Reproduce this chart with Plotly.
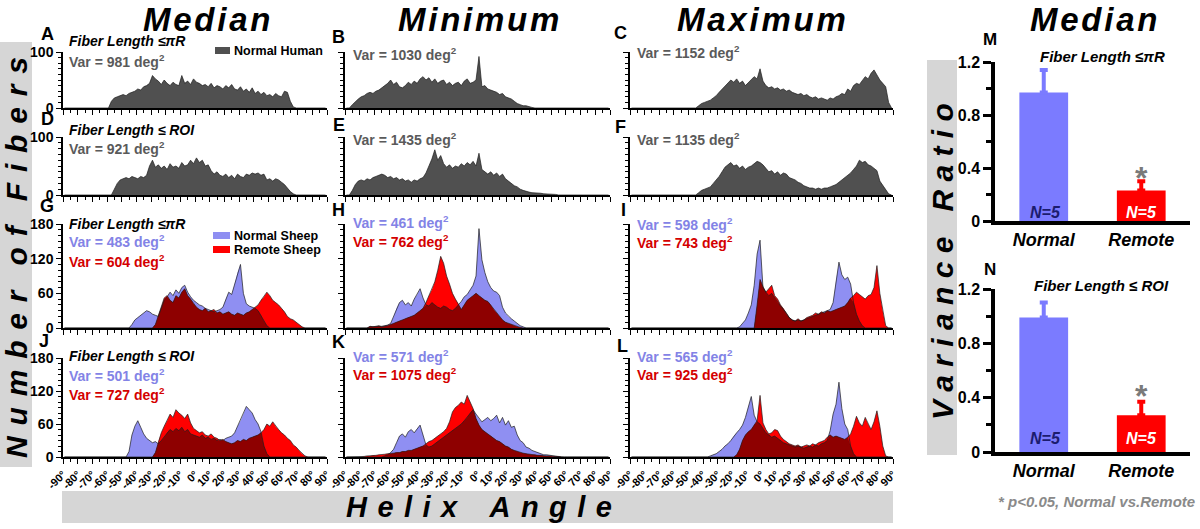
import plotly.graph_objects as go

W, H = 1200, 529
FONT = "Liberation Sans, Arial, sans-serif"

# ---------------- data ----------------
ANGLES = [-89, -87, -85, -83, -81, -79, -77, -75, -73, -71, -69, -67, -65, -63, -61,
          -59, -57, -55, -53, -51, -49, -47, -45, -43, -41, -39, -37, -35, -33, -31,
          -29, -27, -25, -23, -21, -19, -17, -15, -13, -11, -9, -7, -5, -3, -1,
          1, 3, 5, 7, 9, 11, 13, 15, 17, 19, 21, 23, 25, 27, 29,
          31, 33, 35, 37, 39, 41, 43, 45, 47, 49, 51, 53, 55, 57, 59,
          61, 63, 65, 67, 69, 71, 73, 75, 77, 79, 81, 83, 85, 87, 89]

XTICK_VALS = [-90, -80, -70, -60, -50, -40, -30, -20, -10, 0, 10, 20, 30, 40, 50, 60, 70, 80, 90]
XTICK_TEXT = ["-90°", "-80°", "-70°", "-60°", "-50°", "-40°", "-30°", "-20°", "-10°", "0°",
              "10°", "20°", "30°", "40°", "50°", "60°", "70°", "80°", "90°"]

# Normal human (counts per 2° bin, first non-empty bin centre given)
A_FROM, A_COUNTS = -57, [12, 18, 20, 22, 24, 22, 26, 28, 30, 34, 32, 38, 40, 44, 58, 52, 48, 42, 50, 44,
                         40, 46, 42, 40, 58, 44, 48, 42, 52, 46, 44, 40, 42, 38, 44, 36, 40, 38, 34, 40,
                         36, 42, 34, 32, 38, 30, 34, 28, 36, 26, 30, 24, 28, 22, 24, 20, 26, 22, 20, 30,
                         28, 12, 2]
D_FROM, D_COUNTS = -55, [10, 20, 26, 28, 30, 28, 32, 30, 28, 32, 30, 34, 50, 60, 48, 52, 46, 50, 44, 54,
                         48, 50, 46, 56, 50, 52, 60, 54, 64, 56, 60, 50, 52, 42, 36, 40, 34, 32, 36, 30,
                         34, 28, 36, 32, 30, 36, 34, 38, 36, 38, 34, 36, 26, 28, 24, 28, 26, 22, 18, 12,
                         6, 2]
B_FROM, B_COUNTS = -85, [6, 12, 16, 20, 22, 26, 28, 26, 30, 32, 36, 40, 44, 50, 42, 46, 38, 36, 40, 46,
                         42, 48, 44, 52, 56, 50, 54, 46, 52, 44, 48, 50, 42, 46, 40, 44, 46, 40, 48, 52,
                         44, 46, 50, 92, 38, 40, 34, 32, 30, 28, 24, 26, 20, 18, 16, 12, 8, 6, 4, 4,
                         2, 1]
E_FROM, E_COUNTS = -85, [8, 18, 24, 26, 24, 28, 26, 30, 32, 34, 36, 34, 30, 32, 28, 30, 26, 28, 24, 26,
                         22, 26, 24, 28, 30, 38, 50, 62, 78, 60, 68, 54, 48, 52, 46, 50, 48, 54, 50, 56,
                         52, 58, 50, 72, 44, 40, 36, 40, 34, 38, 32, 36, 28, 24, 20, 16, 14, 10, 8, 6,
                         5, 4, 4, 3, 3, 2, 2, 2, 2, 1]
C_FROM, C_COUNTS = -43, [4, 8, 10, 12, 14, 18, 22, 28, 34, 40, 44, 50, 46, 52, 44, 48, 40, 46, 50, 56,
                         52, 70, 48, 40, 36, 38, 34, 36, 32, 34, 30, 32, 28, 26, 24, 26, 22, 24, 20, 18,
                         20, 16, 18, 16, 14, 18, 16, 20, 22, 26, 24, 34, 30, 40, 44, 42, 50, 56, 52, 62,
                         68, 58, 50, 44, 38, 10]
F_FROM, F_COUNTS = -43, [4, 8, 10, 12, 14, 20, 26, 32, 40, 48, 52, 56, 50, 52, 46, 50, 44, 48, 50, 54,
                         58, 56, 52, 46, 40, 42, 36, 40, 34, 38, 36, 30, 28, 26, 22, 20, 16, 14, 12, 12,
                         10, 12, 10, 12, 12, 14, 16, 18, 22, 26, 30, 34, 38, 44, 50, 60, 56, 58, 52, 50,
                         46, 42, 24, 16, 10, 2]

# Sheep: normal (blue) and remote (red)
G_BLUE_FROM, G_BLUE = -43, [6, 14, 18, 22, 26, 30, 28, 24, 22, 20, 34, 48, 54, 62, 56, 66, 60, 70, 74, 62,
                            54, 48, 44, 40, 38, 34, 32, 30, 28, 30, 32, 36, 50, 62, 58, 76, 96, 110, 60, 42,
                            38, 36, 34, 30, 22, 12, 4]
G_RED_FROM, G_RED = -27, [6, 22, 36, 52, 56, 48, 44, 56, 52, 62, 68, 56, 50, 42, 36, 32, 30, 34, 28, 30,
                          32, 26, 28, 24, 26, 28, 24, 22, 26, 24, 22, 26, 28, 32, 36, 40, 48, 54, 62, 56,
                          48, 44, 40, 34, 28, 20, 16, 14, 10, 6, 2]
J_BLUE_FROM, J_BLUE = -45, [10, 40, 56, 66, 54, 42, 34, 30, 26, 28, 24, 30, 36, 44, 50, 46, 52, 48, 54, 46,
                            50, 42, 40, 38, 36, 40, 34, 36, 32, 34, 30, 32, 30, 34, 36, 38, 44, 56, 66, 78,
                            92, 86, 80, 68, 60, 46, 20, 6]
J_RED_FROM, J_RED = -27, [8, 28, 44, 56, 66, 78, 72, 86, 80, 76, 70, 78, 62, 52, 48, 44, 46, 40, 38, 42,
                          36, 34, 30, 32, 28, 26, 24, 26, 30, 28, 32, 30, 34, 36, 38, 40, 44, 50, 60, 56,
                          64, 56, 50, 44, 40, 34, 30, 22, 18, 12, 6, 2]
H_BLUE_FROM, H_BLUE = -73, [2, 2, 2, 3, 3, 4, 5, 8, 20, 34, 44, 48, 40, 44, 38, 50, 58, 68, 52, 40,
                            38, 44, 40, 36, 34, 38, 36, 32, 30, 34, 40, 46, 54, 58, 66, 74, 90, 172, 118, 96,
                            80, 70, 64, 62, 56, 36, 26, 20, 16, 12, 8, 4, 2]
H_RED_FROM, H_RED = -73, [3, 2, 3, 4, 2, 3, 4, 6, 8, 10, 12, 14, 16, 18, 20, 22, 26, 30, 34, 44,
                          56, 66, 80, 100, 124, 112, 90, 76, 60, 50, 42, 32, 40, 48, 52, 56, 60, 56, 52, 48,
                          46, 40, 32, 26, 20, 14, 10, 8, 6, 4, 2, 1]
K_BLUE_FROM, K_BLUE = -63, [2, 4, 8, 14, 26, 38, 42, 36, 46, 50, 44, 52, 58, 40, 22, 18, 20, 24, 28, 32,
                            36, 40, 44, 48, 52, 56, 60, 66, 72, 80, 86, 78, 70, 64, 68, 72, 66, 70, 76, 62,
                            72, 58, 66, 54, 56, 40, 30, 26, 18, 16, 12, 10, 8, 6, 4, 4, 3, 2, 2, 1]
K_RED_FROM, K_RED = -77, [1, 2, 2, 3, 3, 4, 4, 5, 6, 6, 7, 8, 8, 10, 10, 12, 12, 14, 16, 18,
                          20, 24, 28, 30, 34, 38, 42, 46, 52, 64, 82, 90, 94, 100, 96, 112, 100, 88, 70, 58,
                          50, 46, 42, 38, 34, 30, 28, 24, 20, 18, 14, 12, 10, 8, 7, 6, 5, 4, 4, 3,
                          3, 2, 2, 2, 1, 1, 1]
I_BLUE_FROM, I_BLUE = -15, [2, 8, 14, 26, 40, 74, 128, 152, 70, 62, 56, 60, 52, 44, 38, 32, 24, 18, 14, 12,
                            14, 12, 14, 16, 18, 20, 22, 24, 26, 28, 30, 32, 44, 82, 114, 92, 84, 88, 76, 44,
                            24, 12, 4]
I_RED_FROM, I_RED = -3, [40, 84, 72, 62, 68, 74, 56, 50, 40, 34, 26, 18, 14, 12, 16, 12, 14, 18, 20, 22,
                         26, 24, 28, 26, 30, 28, 30, 32, 34, 36, 38, 44, 52, 56, 62, 58, 54, 50, 56, 58,
                         70, 108, 60, 30, 4]
L_BLUE_FROM, L_BLUE = -35, [2, 4, 6, 10, 14, 20, 24, 30, 38, 44, 50, 58, 72, 92, 110, 76, 64, 60, 52, 44,
                            40, 36, 38, 34, 30, 26, 24, 22, 20, 18, 20, 18, 16, 18, 20, 18, 22, 20, 24, 26,
                            30, 48, 78, 96, 136, 88, 60, 50, 20, 6]
L_RED_FROM, L_RED = -17, [4, 14, 30, 40, 46, 50, 58, 66, 112, 62, 50, 42, 44, 50, 48, 38, 32, 28, 24, 22,
                          20, 22, 18, 20, 22, 20, 24, 22, 26, 28, 30, 36, 40, 36, 38, 36, 34, 32, 36, 42,
                          56, 74, 62, 56, 72, 60, 50, 64, 84, 56, 20, 2]

# Variance ratio bars (mean, upper SEM)
BAR_GROUPS = ["Normal", "Remote"]
M_MEAN = [0.97, 0.23]
M_ERR = [0.17, 0.07]
N_MEAN = [0.99, 0.27]
N_ERR = [0.11, 0.10]

# ---------------- styling ----------------
GRAY_FILL = "#505050"
BLUE_FILL = "#8f8ff2"
RED_FILL = "#ff0000"
DARK_FILL = "#8e0000"
OUTLINE = "#1c1c1c"
TXT_GRAY = "#5a5a5a"
TXT_BLUE = "#8383e6"
TXT_RED = "#d40000"
BAR_BLUE = "#7b7bff"
BAR_RED = "#ff0000"

COLS = [(63, 327), (345, 610), (630, 893)]
ROWS = [(52, 108), (137, 195), (224, 328), (358, 457)]


def px_x(px):
    return px / W


def px_y(py):
    return 1 - py / H


def full(start, counts):
    out = [0] * len(ANGLES)
    i0 = ANGLES.index(start)
    for k, v in enumerate(counts):
        if i0 + k < len(out):
            out[i0 + k] = v
    return out


def axn(prefix, i):
    return prefix if i == 1 else f"{prefix}{i}"


def ref(prefix, i):
    return prefix if i == 1 else f"{prefix}{i}"


fig = go.Figure()
layout = dict(
    width=W, height=H, margin=dict(l=0, r=0, t=0, b=0, pad=0, autoexpand=False),
    paper_bgcolor="white", plot_bgcolor="white", showlegend=False,
    barmode="overlay", font=dict(family=FONT, color="black"),
)

human = [  # letter, col, row, from, counts
    ("A", 0, 0, A_FROM, A_COUNTS),
    ("B", 1, 0, B_FROM, B_COUNTS),
    ("C", 2, 0, C_FROM, C_COUNTS),
    ("D", 0, 1, D_FROM, D_COUNTS),
    ("E", 1, 1, E_FROM, E_COUNTS),
    ("F", 2, 1, F_FROM, F_COUNTS),
]
sheep = [  # letter, col, row, blue, red
    ("G", 0, 2, (G_BLUE_FROM, G_BLUE), (G_RED_FROM, G_RED)),
    ("H", 1, 2, (H_BLUE_FROM, H_BLUE), (H_RED_FROM, H_RED)),
    ("I", 2, 2, (I_BLUE_FROM, I_BLUE), (I_RED_FROM, I_RED)),
    ("J", 0, 3, (J_BLUE_FROM, J_BLUE), (J_RED_FROM, J_RED)),
    ("K", 1, 3, (K_BLUE_FROM, K_BLUE), (K_RED_FROM, K_RED)),
    ("L", 2, 3, (L_BLUE_FROM, L_BLUE), (L_RED_FROM, L_RED)),
]


def hist_axes(i, col, row, ymax, ymajor):
    x0, x1 = COLS[col]
    yt, yb = ROWS[row]
    bottom = row == 3
    xa = dict(
        domain=[px_x(x0), px_x(x1)], range=[-90, 90], anchor=ref("y", i), automargin=False,
        showline=True, linecolor="black", linewidth=1.5, showgrid=False, zeroline=False,
        ticks="outside", ticklen=5, tickwidth=1.3, tickcolor="black",
        tickmode="array", tickvals=XTICK_VALS, ticktext=XTICK_TEXT,
        showticklabels=bottom, tickangle=-45,
        tickfont=dict(size=11, weight="bold", family=FONT),
        minor=dict(dtick=5, tick0=0, ticks="outside", ticklen=3, tickwidth=1, tickcolor="black"),
        fixedrange=True,
    )
    ya = dict(
        domain=[px_y(yb), px_y(yt)], range=[0, ymax], anchor=ref("x", i), automargin=False,
        showline=True, linecolor="black", linewidth=1.5, showgrid=False, zeroline=False,
        ticks="outside", ticklen=5, tickwidth=1.3, tickcolor="black",
        tickmode="array", tickvals=ymajor, ticktext=[str(v) for v in ymajor],
        showticklabels=(col == 0), tickfont=dict(size=14, weight="bold", family=FONT),
        minor=dict(dtick=10, tick0=0, ticks="outside", ticklen=3, tickwidth=1, tickcolor="black"),
        fixedrange=True,
    )
    layout[axn("xaxis", i)] = xa
    layout[axn("yaxis", i)] = ya


idx = 0
for letter, col, row, start, counts in human:
    idx += 1
    hist_axes(idx, col, row, 100, [0, 100])
    fig.add_trace(go.Scatter(
        x=ANGLES, y=full(start, counts), mode="lines", fill="tozeroy",
        fillcolor=GRAY_FILL, line=dict(color=OUTLINE, width=0.7),
        xaxis=ref("x", idx), yaxis=ref("y", idx), hoverinfo="skip"))

for letter, col, row, blue, red in sheep:
    idx += 1
    hist_axes(idx, col, row, 180, [0, 60, 120, 180])
    yb = full(*blue)
    yr = full(*red)
    overlap = [min(a, b) for a, b in zip(yb, yr)]
    xr, yr_ = ref("x", idx), ref("y", idx)
    for yy, fc in ((yb, BLUE_FILL), (yr, RED_FILL), (overlap, DARK_FILL)):
        fig.add_trace(go.Scatter(x=ANGLES, y=yy, mode="none", fill="tozeroy", fillcolor=fc,
                                 xaxis=xr, yaxis=yr_, hoverinfo="skip"))
    for yy in (yb, yr):
        fig.add_trace(go.Scatter(x=ANGLES, y=yy, mode="lines", line=dict(color=OUTLINE, width=0.7),
                                 xaxis=xr, yaxis=yr_, hoverinfo="skip"))

# ---------------- bar panels ----------------
BAR_X = (995, 1190)
BAR_ROWS = [(62, 221), (289, 452)]
for k, (means, errs) in enumerate(((M_MEAN, M_ERR), (N_MEAN, N_ERR))):
    idx += 1
    yt, yb = BAR_ROWS[k]
    layout[axn("xaxis", idx)] = dict(
        domain=[px_x(BAR_X[0]), px_x(BAR_X[1])], anchor=ref("y", idx), type="category",
        automargin=False,
        range=[-0.5, 1.5], showline=True, linecolor="black", linewidth=3.5, showgrid=False,
        zeroline=False, ticks="",
        tickfont=dict(size=18, weight="bold", style="italic", family=FONT), fixedrange=True,
    )
    layout[axn("yaxis", idx)] = dict(
        domain=[px_y(yb), px_y(yt)], anchor=ref("x", idx), range=[0, 1.2], automargin=False,
        showline=True, linecolor="black", linewidth=3.5, showgrid=False, zeroline=False,
        tickmode="array", tickvals=[0, 0.4, 0.8, 1.2], ticktext=["0", "0.4", "0.8", "1.2"],
        ticks="outside", ticklen=8, tickwidth=3, tickcolor="black",
        minor=dict(tickvals=[0.2, 0.6, 1.0], ticks="outside", ticklen=5, tickwidth=3, tickcolor="black"),
        tickfont=dict(size=16, weight="bold", family=FONT), fixedrange=True,
    )
    for j, color in enumerate((BAR_BLUE, BAR_RED)):
        fig.add_trace(go.Bar(
            x=[BAR_GROUPS[j]], y=[means[j]], width=0.5, marker=dict(color=color, line=dict(width=0)),
            error_y=dict(type="data", array=[errs[j]], arrayminus=[0], symmetric=False,
                         color=color, thickness=4, width=4),
            xaxis=ref("x", idx), yaxis=ref("y", idx), hoverinfo="skip"))

# ---------------- annotations & shapes ----------------
anns = []
shapes = []


def ann(text, x, y, size, color="black", bold=True, italic=False, xanchor="left",
        yanchor="middle", angle=0):
    anns.append(dict(
        text=text, x=px_x(x), y=px_y(y), xref="paper", yref="paper", showarrow=False,
        xanchor=xanchor, yanchor=yanchor, textangle=angle, borderpad=0,
        font=dict(size=size, color=color, family=FONT,
                  weight="bold" if bold else "normal", style="italic" if italic else "normal")))


def rect(x0, y0, x1, y1, color):
    shapes.append(dict(type="rect", xref="paper", yref="paper", x0=px_x(x0), x1=px_x(x1),
                       y0=px_y(y1), y1=px_y(y0), fillcolor=color, line=dict(width=0), layer="below"))


HS = "\u200a"
NB = "\u00a0"
LS = NB + HS


def spaced(word, sep):
    return sep.join(list(word))


# gray label boxes
rect(0, 42, 32, 467, "#d6d6d6")
rect(62, 491, 893, 523, "#d6d6d6")
rect(927, 60, 957, 455, "#d6d6d6")

ann(spaced("Number", LS) + NB * 3 + spaced("of", LS) + NB * 3 + spaced("Fibers", LS),
    16, 258, 30, italic=True, xanchor="center", angle=-90)
ann(spaced("Variance", NB) + NB * 3 + spaced("Ratio", NB),
    942, 262, 30, italic=True, xanchor="center", angle=-90)
ann(spaced("Helix", LS) + NB * 4 + spaced("Angle", LS), 479, 507, 29, italic=True, xanchor="center")

# column titles
for title, cx in (("Median", 206), ("Minimum", 478), ("Maximum", 761), ("Median", 1093)):
    ann(spaced(title, HS), cx, 19, 33, italic=True, xanchor="center")

# panel letters
for letter, x, y in (("A", 47, 34), ("B", 339, 37), ("C", 620, 33), ("D", 47, 119), ("E", 339, 125),
                     ("F", 620, 127), ("G", 47, 206), ("H", 339, 210), ("I", 623, 210),
                     ("J", 44, 341), ("K", 339, 342), ("L", 622, 346), ("M", 990, 39), ("N", 990, 269)):
    ann(letter, x, y, 18 if letter not in "MN" else 17, xanchor="center")

SUP = " deg<sup>2</sup>"
# human panels
ann("Fiber Length ≤πR", 68, 41, 14, italic=True)
ann("Var = 981" + SUP, 68, 61, 14, TXT_GRAY)
ann("Fiber Length ≤ ROI", 68, 130, 14, italic=True)
ann("Var = 921" + SUP, 68, 148, 14, TXT_GRAY)
ann("Var = 1030" + SUP, 352, 54, 14, TXT_GRAY)
ann("Var = 1435" + SUP, 352, 139, 14, TXT_GRAY)
ann("Var = 1152" + SUP, 636, 52, 14, TXT_GRAY)
ann("Var = 1135" + SUP, 636, 139, 14, TXT_GRAY)
rect(215, 47, 230, 54, GRAY_FILL)
ann("Normal Human", 233, 51, 12.5)

# sheep panels
ann("Fiber Length ≤πR", 68, 224, 14, italic=True)
ann("Var = 483" + SUP, 68, 241, 14, TXT_BLUE)
ann("Var = 604" + SUP, 68, 261, 14, TXT_RED)
rect(213, 232, 230, 239, BLUE_FILL)
ann("Normal Sheep", 233, 236, 12.5)
rect(213, 246, 230, 253, RED_FILL)
ann("Remote Sheep", 233, 250, 12.5)
ann("Fiber Length ≤ ROI", 68, 356, 14, italic=True)
ann("Var = 501" + SUP, 68, 375, 14, TXT_BLUE)
ann("Var = 727" + SUP, 68, 394, 14, TXT_RED)
ann("Var = 461" + SUP, 352, 222, 14, TXT_BLUE)
ann("Var = 762" + SUP, 352, 241, 14, TXT_RED)
ann("Var = 571" + SUP, 352, 356, 14, TXT_BLUE)
ann("Var = 1075" + SUP, 352, 374, 14, TXT_RED)
ann("Var = 598" + SUP, 636, 224, 14, TXT_BLUE)
ann("Var = 743" + SUP, 636, 242, 14, TXT_RED)
ann("Var = 565" + SUP, 636, 356, 14, TXT_BLUE)
ann("Var = 925" + SUP, 636, 374, 14, TXT_RED)

# bar panel texts
ann("Fiber Length ≤πR", 1102, 56, 15, italic=True, xanchor="center")
ann("Fiber Length ≤ ROI", 1101, 285, 15, italic=True, xanchor="center")
for yy in (212, 438):
    ann("N=5", 1045, yy, 16, "#1c1c6e", italic=True, xanchor="center")
    ann("N=5", 1141, yy, 16, "white", italic=True, xanchor="center")
for yy in (178, 396):
    ann("*", 1141, yy, 32, "#7a7a7a", xanchor="center")
ann("* p<0.05, Normal vs.Remote", 1196, 501, 15, "#8a8a8a", italic=True, xanchor="right")

layout["annotations"] = anns
layout["shapes"] = shapes
fig.update_layout(**layout)
fig.write_html(
    "out.html",
    config={"displayModeBar": False, "responsive": False},
    post_script="document.body.style.margin='0px';document.body.style.overflow='hidden';",
)
